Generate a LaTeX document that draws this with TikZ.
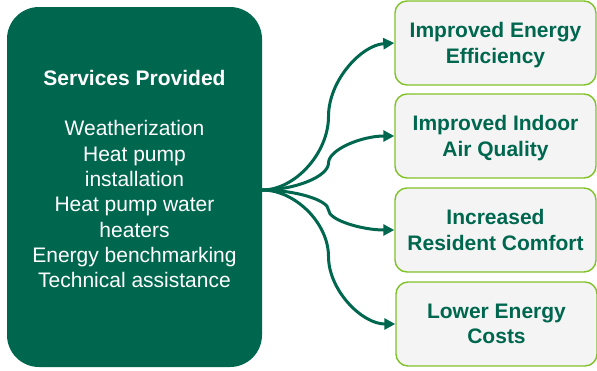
\documentclass[tikz,border=0pt]{standalone}
\usepackage{fontspec}
\setmainfont{Liberation Sans}
\usepackage{tikz}
\usetikzlibrary{arrows.meta}
\definecolor{pine}{RGB}{0,103,79}
\definecolor{leaf}{RGB}{128,194,40}
\definecolor{paper}{RGB}{244,244,244}
\tikzset{outcome/.style={rectangle, draw=leaf, line width=1.4pt, fill=paper,
rounded corners=12pt, minimum width=201pt, minimum height=84pt, text depth=0pt,
text=pine, align=center, font=\bfseries\fontsize{21}{25.3}\selectfont}}
\tikzset{branch/.style={draw=pine, line width=3pt, -{Triangle[length=11pt,width=11pt]}}}

\begin{document}
\begin{tikzpicture}[x=1pt, y=-1pt]
\useasboundingbox (0,0) rectangle (597,370);

\node[rectangle,
fill=pine,
rounded corners=32pt,
minimum width=255pt,
minimum height=360pt,
inner sep=0pt] (services) at (134.5,187) {};

\node[text=white,
align=center,
font=\fontsize{21}{25.3}\selectfont] (servlist) at (134.5,179)
{\textbf{Services Provided}\\[25.3pt]
Weatherization\\ Heat pump\\ installation\\ Heat pump water\\ heaters\\
Energy benchmarking\\ Technical assistance};

\node[outcome] (eff) at (495.5,43) {Improved Energy\\ Efficiency};
\node[outcome] (air) at (495.5,136) {Improved Indoor\\ Air Quality};
\node[outcome] (comf) at (495.5,230) {Increased\\ Resident Comfort};
\node[outcome] (cost) at (496.5,324) {Lower Energy\\ Costs};

\coordinate (hub) at ([yshift=-3pt]services.east);

\draw [branch] (hub) .. controls (295,190) and (328.5,153) .. (328.5,116.5)
  .. controls (328.5,80) and (361.75,45) .. (eff.west);
\draw [branch] (hub) .. controls (295,190) and (328.5,176.5) .. (328.5,163)
  .. controls (328.5,149.5) and (361.75,136) .. (air.west);
\draw [branch] (hub) .. controls (295,190) and (328.5,200) .. (328.5,210)
  .. controls (328.5,220) and (361.75,230) .. (comf.west);
\draw [branch] (hub) .. controls (295,190) and (328.5,223) .. (328.5,256.5)
  .. controls (328.5,290) and (361.75,324) .. (cost.west);

\end{tikzpicture}
\end{document}
